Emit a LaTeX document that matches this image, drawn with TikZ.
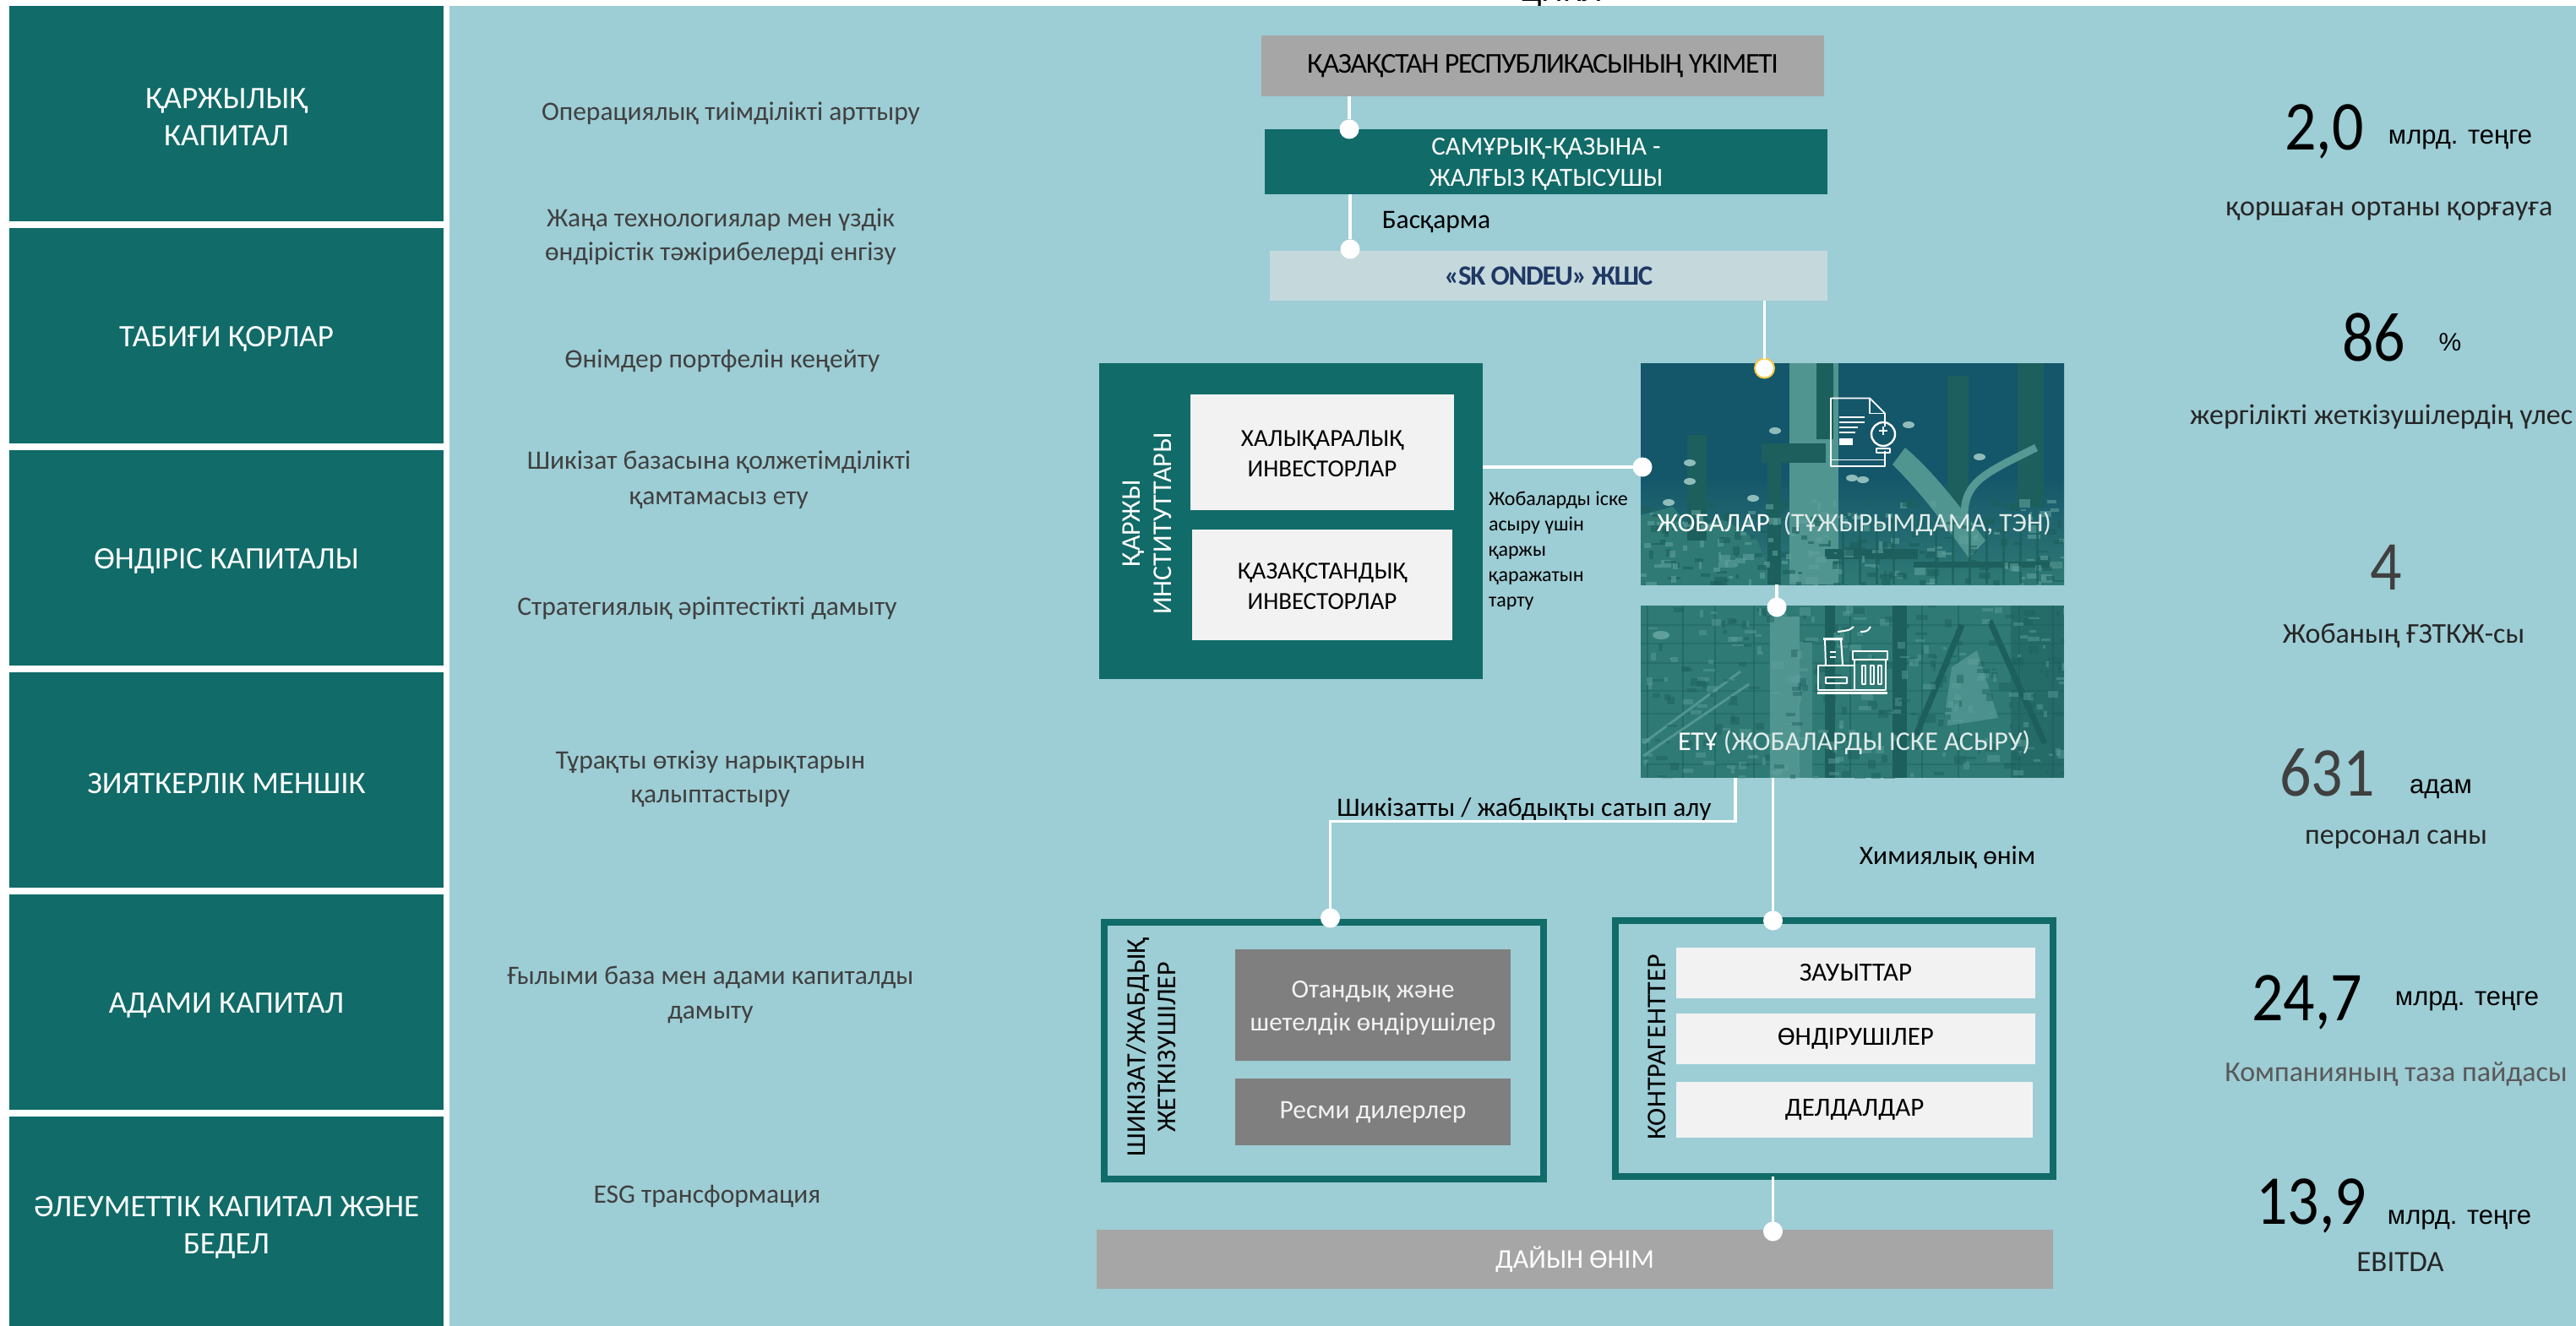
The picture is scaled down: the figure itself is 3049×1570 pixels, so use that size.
\documentclass[tikz,border=0pt]{standalone}
\usepackage{fontspec}
\setmainfont{Carlito}
\newfontfamily\arl{Liberation Sans}
\definecolor{teal1}{HTML}{116B68}
\definecolor{panel}{HTML}{9DCDD5}
\definecolor{lite}{HTML}{C5D9DD}
\definecolor{gr}{HTML}{A6A6A6}
\definecolor{gr2}{HTML}{7F7F7F}
\definecolor{off}{HTML}{F2F2F2}
\definecolor{txt}{HTML}{404040}
\definecolor{navy}{HTML}{1F3864}
\definecolor{ring}{HTML}{F7C948}
\definecolor{deep}{HTML}{14566A}
\definecolor{ph}{HTML}{2F7A75}
\definecolor{phd}{HTML}{1C5F5C}
\definecolor{phl}{HTML}{5FA09C}
\newcommand\fs[1]{\fontsize{#1}{#1}\selectfont}
\newcommand\tall[1]{\scalebox{1}[1.12]{#1}}
\tikzset{
 x=1pt,y=-1pt,
 every node/.style={inner sep=0pt,outer sep=0pt},
 left box/.style={rectangle,fill=teal1,minimum width=514pt,minimum height=255pt},
 left text/.style={text=white,align=center,font=\fs{37},yshift=-4pt},
 goal/.style={text=txt,align=center,font=\fs{31.5}},
 conn/.style={draw=white,line width=3.5pt},
 dotw/.style={circle,fill=white,minimum size=23pt},
 doty/.style={circle,fill=white,draw=ring,line width=2pt,minimum size=23pt},
 big/.style={font=\fs{74},text=black,anchor=base west},
 unit/.style={font=\arl\fs{31},text=black},
 figcap/.style={font=\fs{34},text=black!85},
 lab/.style={font=\fs{31.5},text=black},
 frm/.style={rectangle,draw=teal1,line width=8pt},
 tight/.style={font=#1\addfontfeature{LetterSpace=-4}},
}
\begin{document}
\begin{tikzpicture}
\useasboundingbox (0,0) rectangle (3049,1570);
\fill[white] (0,0) rectangle (3049,1570);
% title clipped by the page
\node[font=\fs{40},text=black,anchor=base] (title) at (1848,2) {ЦИКЛ};
\node[fill=panel,minimum width=2517pt,minimum height=1563pt] (panelbg) at (1790.5,788.5) {};
\node[left box] (l1) at (268,134.5) {};
\node[left box] (l2) at (268,397.5) {};
\node[left box] (l3) at (268,660.5) {};
\node[left box] (l4) at (268,923.5) {};
\node[left box] (l5) at (268,1186.5) {};
\node[left box] (l6) at (268,1449.5) {};
\node[left text] (t1) at (l1) {ҚАРЖЫЛЫҚ\\[7pt]КАПИТАЛ};
\node[left text] (t2) at (l2) {ТАБИҒИ ҚОРЛАР};
\node[left text] (t3) at (l3) {ӨНДІРІС КАПИТАЛЫ};
\node[left text] (t4) at (l4) {ЗИЯТКЕРЛІК МЕНШІК};
\node[left text] (t5) at (l5) {АДАМИ КАПИТАЛ};
\node[left text] (t6) at (l6) {ӘЛЕУМЕТТІК КАПИТАЛ ЖӘНЕ\\[7pt]БЕДЕЛ};
% goals
\node[goal] (g1) at (865,134) {Операциялық тиімділікті арттыру};
\node[goal] (g2) at (853,280) {Жаңа технологиялар мен үздік\\[8pt]өндірістік тәжірибелерді енгізу};
\node[goal] (g3) at (855,427) {Өнімдер портфелін кеңейту};
\node[goal] (g4) at (851,568) {Шикізат базасына қолжетімділікті\\[10pt]қамтамасыз ету};
\node[goal] (g5) at (837,720) {Стратегиялық әріптестікті дамыту};
\node[goal] (g6) at (841,922) {Тұрақты өткізу нарықтарын\\[8pt]қалыптастыру};
\node[goal] (g7) at (841,1178) {Ғылыми база мен адами капиталды\\[9pt]дамыту};
\node[goal] (g8) at (837,1416) {ESG трансформация};
% top chain
\node[fill=gr,minimum width=666pt,minimum height=72pt,tight=\fs{34},text=black] (gov) at (1826,78) {ҚАЗАҚСТАН РЕСПУБЛИКАСЫНЫҢ ҮКІМЕТІ};
\node[fill=teal1,minimum width=666pt,minimum height=77pt,font=\fs{31},text=white,align=center] (sam) at (1830,191.5) {};
\node[font=\fs{31},text=white,align=center,yshift=-3pt] (samt) at (sam) {САМҰРЫҚ-ҚАЗЫНА -\\[6pt]ЖАЛҒЫЗ ҚАТЫСУШЫ};
\node[fill=lite,minimum width=660pt,minimum height=59pt,tight=\bfseries\fs{33},text=navy] (sk) at (1833,326.5) {«SK ONDEU» ЖШС};
\node[lab] (bas) at (1700,263) {Басқарма};
% financiers
\node[fill=teal1,minimum width=454pt,minimum height=374pt] (fin) at (1528,617) {};
\node[fill=off,minimum width=312pt,minimum height=137pt,font=\fs{29},align=center] (hal) at (1565,535.5) {};
\node[fill=off,minimum width=308pt,minimum height=131pt,font=\fs{29},align=center] (kaz) at (1565,692.5) {};
\node[font=\fs{29},align=center] (halt) at (1565,537) {ХАЛЫҚАРАЛЫҚ\\[7pt]ИНВЕСТОРЛАР};
\node[font=\fs{29},align=center] (kazt) at (1565,694) {ҚАЗАҚСТАНДЫҚ\\[7pt]ИНВЕСТОРЛАР};
\node[rotate=90,text=white,font=\fs{32},align=center] (fint) at (1358,620) {ҚАРЖЫ\\[5pt]ИНСТИТУТТАРЫ};
\node[anchor=north west,font=\fs{24},text=black,align=left] (att) at (1762,582) {Жобаларды іске\\[6pt]асыру үшін\\[6pt]қаржы\\[6pt]қаражатын\\[6pt]тарту};
% photo panels
\node[fill=ph,minimum width=501pt,minimum height=262pt] (job) at (2192.5,561) {};
\begin{scope}
\clip (job.south west) rectangle (job.north east);
\shade[top color=deep,bottom color=ph,middle color=deep] (1942,430) rectangle (2443,692);
\fill[ph] (1942,610) -- (1980,600) -- (2000,625) -- (2040,615) -- (2080,640) -- (2100,692) -- (1942,692) -- cycle;
\fill[phl!70!ph] (2118,430) rectangle (2176,692);
\fill[phd] (2150,430) rectangle (2170,520);
\fill[phd] (2085,525) rectangle (2161,548);
\fill[phd] (2092,548) rectangle (2108,692);
\fill[phd] (1997,515) rectangle (2020,640);
\fill[phd] (2305,445) rectangle (2330,600);
\fill[phd] (2388,430) rectangle (2419,600);
\fill[phl!70!ph] (2240,550) .. controls (2280,590) and (2300,620) .. (2330,660) -- (2350,640) .. controls (2320,600) and (2290,560) .. (2255,530) -- cycle;
\draw[phl!80!ph,line width=9pt] (2325,610) .. controls (2325,570) and (2350,560) .. (2410,530);
\fill[phd] (2160,650) rectangle (2270,662);
\fill[phd] (2265,665) rectangle (2440,672);
\pgfmathsetseed{11}
\foreach \i in {1,...,260}{
  \pgfmathsetmacro\xa{1942+rnd*501}
  \pgfmathsetmacro\ya{590+rnd*102}
  \pgfmathsetmacro\wa{3+rnd*12}
  \pgfmathsetmacro\ha{2+rnd*8}
  \pgfmathparse{rnd<0.5?"phd":"phl"}
  \fill[\pgfmathresult,opacity=.6] (\xa,\ya) rectangle ++(\wa,\ha);
}
\foreach \xx in {2180,2200,2220,2240,2290,2310,2330,2350,2370,2390,2410}
  \fill[phd,opacity=.7] (\xx,615) rectangle (\xx+3,692);
\foreach \xx/\yy in {2259/503,2101/510,2192/566,2205/568,2075/590,2343/541,1975/595,2000/548,2000/570}
  \fill[phl!70!white] (\xx,\yy) circle[x radius=7pt,y radius=4pt];
\end{scope}
\node[fill=ph,minimum width=501pt,minimum height=204pt] (etu) at (2192.5,819) {};
\begin{scope}
\clip (etu.south west) rectangle (etu.north east);
\foreach \xx in {1950,1992,2030,2076,2190,2275,2318,2390,2430}
  \draw[phd,opacity=.55,line width=2pt] (\xx,717) -- (\xx,921);
\foreach \yy in {740,762,785,818,845,905}
  \draw[phd,opacity=.4,line width=2pt] (1942,\yy) -- (2443,\yy);
\fill[phl!70!ph] (2095,730) rectangle (2130,921);
\fill[phl!40!ph] (2130,760) rectangle (2145,921);
\fill[phd] (2240,717) rectangle (2257,921);
\fill[phd] (2160,717) rectangle (2172,921);
\fill[phd,opacity=.5] (2380,717) rectangle (2443,921);
\draw[phd,line width=7pt] (2322,740) -- (2268,870);
\draw[phd,line width=7pt] (2355,735) -- (2420,880);
\fill[phl!60!ph] (2310,790) -- (2340,770) -- (2365,850) -- (2300,860) -- cycle;
\draw[phl!70!ph,line width=3pt] (1945,880) -- (2060,795);
\draw[phl!70!ph,line width=3pt] (1945,895) -- (2070,810);
\pgfmathsetseed{5}
\foreach \i in {1,...,320}{
  \pgfmathsetmacro\xa{1942+rnd*501}
  \pgfmathsetmacro\ya{717+rnd*204}
  \pgfmathsetmacro\wa{3+rnd*12}
  \pgfmathsetmacro\ha{2+rnd*8}
  \pgfmathparse{rnd<0.55?"phd":"phl"}
  \fill[\pgfmathresult,opacity=.45] (\xa,\ya) rectangle ++(\wa,\ha);
}
\fill[phl] (1966,752) circle[x radius=10pt,y radius=5pt];
\end{scope}
\node[font=\fs{31.5},text=white,anchor=west] (jobt) at (1961,620) {ЖОБАЛАР\enspace {\color{white!85!ph}(ТҰЖЫРЫМДАМА, ТЭН)}};
\node[font=\fs{32},text=white,anchor=west] (etut) at (1986,879) {ЕТҰ {\color{white!85!ph}(ЖОБАЛАРДЫ ІСКЕ АСЫРУ)}};
% document-and-bulb icon
\begin{scope}[draw=white,line width=1.8pt,line join=round]
\draw (2231,505) -- (2231,489.5) -- (2213,471.5) -- (2167,471.5) -- (2167,552) -- (2231,552) -- (2231,534);
\draw (2213,471.5) -- (2213,489.5) -- (2231,489.5);
\draw (2167,544.5) -- (2231,544.5);
\foreach \yy/\xe in {494/2207,500/2207,506/2199,512/2196}
  \draw (2176.5,\yy) -- (\xe,\yy);
\fill[white] (2176.5,519) rectangle (2193,527);
\draw[line width=2.4pt] (2229,514) circle[radius=14pt];
\draw[line width=2.4pt] (2221,531) rectangle (2237,536);
\draw[line width=2pt] (2224,510) -- (2234,510) (2229,505) -- (2229,515);
\end{scope}
% factory icon
\begin{scope}[draw=white,line width=2pt,line join=round]
\draw (2175,748) .. controls (2192,746) and (2190,745) .. (2194,742);
\draw (2202,748) .. controls (2212,748) and (2212,745) .. (2214,742);
\draw (2161,788) -- (2160,757) -- (2179,757) -- (2181,788);
\draw[line width=3pt] (2158,756) -- (2181,756);
\draw (2173,772) -- (2166,772) (2173,778) -- (2166,778);
\draw (2152,788) rectangle (2195,817);
\draw (2195,781) rectangle (2232,817);
\draw (2193,771) rectangle (2234,781);
\draw (2161,802) rectangle (2186,809);
\draw (2204,788) rectangle (2208,810) (2214,788) rectangle (2218,810) (2223,788) rectangle (2227,810);
\draw[line width=3pt] (2151,820) -- (2234,820);
\end{scope}
% lower frames
\node[frm,minimum width=520pt,minimum height=304pt] (sup) at (1567,1244) {};
\node[rotate=90,text=black,font=\fs{32},align=center] (supt) at (1362,1240) {ШИКІЗАТ/ЖАБДЫҚ\\[4pt]ЖЕТКІЗУШІЛЕР};
\node[fill=gr2,minimum width=326pt,minimum height=132pt] (dom) at (1625,1190) {};
\node[font=\fs{31},text=off,align=center] (domt) at (1625,1193) {Отандық және\\[8pt]шетелдік өндірушілер};
\node[fill=gr2,minimum width=326pt,minimum height=79pt,font=\fs{31.5},text=off] (deal) at (1625,1316.5) {Ресми дилерлер};
\node[frm,minimum width=518pt,minimum height=303pt] (con) at (2171,1241.5) {};
\node[rotate=90,text=black,font=\fs{32}] (cont) at (1961,1240) {КОНТРАГЕНТТЕР};
\node[fill=off,minimum width=425pt,minimum height=60pt,font=\fs{31},text=black] (c1) at (2196.5,1152) {ЗАУЫТТАР};
\node[fill=off,minimum width=425pt,minimum height=60pt,font=\fs{31},text=black] (c2) at (2196.5,1230) {ӨНДІРУШІЛЕР};
\node[fill=off,minimum width=422pt,minimum height=66pt,font=\fs{31},text=black] (c3) at (2195,1314) {ДЕЛДАЛДАР};
\node[fill=gr,minimum width=1132pt,minimum height=70pt,font=\fs{32},text=white] (fin2) at (1864,1491) {ДАЙЫН ӨНІМ};
\node[lab] (buy) at (1804,958) {Шикізатты / жабдықты сатып алу};
\node[lab] (chem) at (2305,1015) {Химиялық өнім};
% junction dots
\node[dotw] (d1) at (1597,153) {};
\node[dotw] (d2) at (1598,295) {};
\node[doty] (d3) at (2088.5,436) {};
\node[dotw] (d4) at (1944,553) {};
\node[dotw] (d5) at (2103,719) {};
\node[dotw] (d6) at (1574.5,1087) {};
\node[dotw] (d7) at (2098.5,1090) {};
\node[dotw] (d8) at (2098.5,1458) {};
\coordinate (e1) at (2054,972.5);
% connectors
\draw[conn] (gov.south -| d1) -- (d1);
\draw[conn] (sam.south -| d2) -- (d2);
\draw[conn] (sk.south -| d3) -- (d3);
\draw[conn] (fin.east |- d4) -- (d4);
\draw[conn] (job.south -| d5) -- (d5);
\draw[conn] (etu.south -| e1) -- (e1) -| (d6);
\draw[conn] (etu.south -| d7) -- (d7);
\draw[conn] (con.south -| d8) -- (d8);
% right figures
\node[big] (n1) at (2704,178) {\tall{2,0}};
\node[unit] (u1) at (2912,165) {млрд. теңге};
\node[figcap] (k1) at (2828,250) {қоршаған ортаны қорғауға};
\node[big] (n2) at (2772,427) {\tall{86}};
\node[unit,font=\arl\fs{30}] (u2) at (2900,405) {\%};
\node[figcap,anchor=west] (k2) at (2592,494) {жергілікті жеткізушілердің үлес};
\node[big,text=txt] (n3) at (2805,698) {\tall{4}};
\node[figcap] (k3) at (2845,753) {Жобаның ҒЗТКЖ-сы};
\node[big,text=txt] (n4) at (2698,942) {\tall{631}};
\node[unit] (u4) at (2889,934) {адам};
\node[figcap] (k4) at (2836,994) {персонал саны};
\node[big] (n5) at (2665,1208) {\tall{24,7}};
\node[unit] (u5) at (2920,1185) {млрд. теңге};
\node[figcap,text=black!65] (k5) at (2836,1272) {Компанияның таза пайдасы};
\node[big] (n6) at (2670,1449) {\tall{13,9}};
\node[unit] (u6) at (2911,1444) {млрд. теңге};
\node[figcap,font=\fs{35}] (k6) at (2841,1494) {EBITDA};
\end{tikzpicture}
\end{document}
